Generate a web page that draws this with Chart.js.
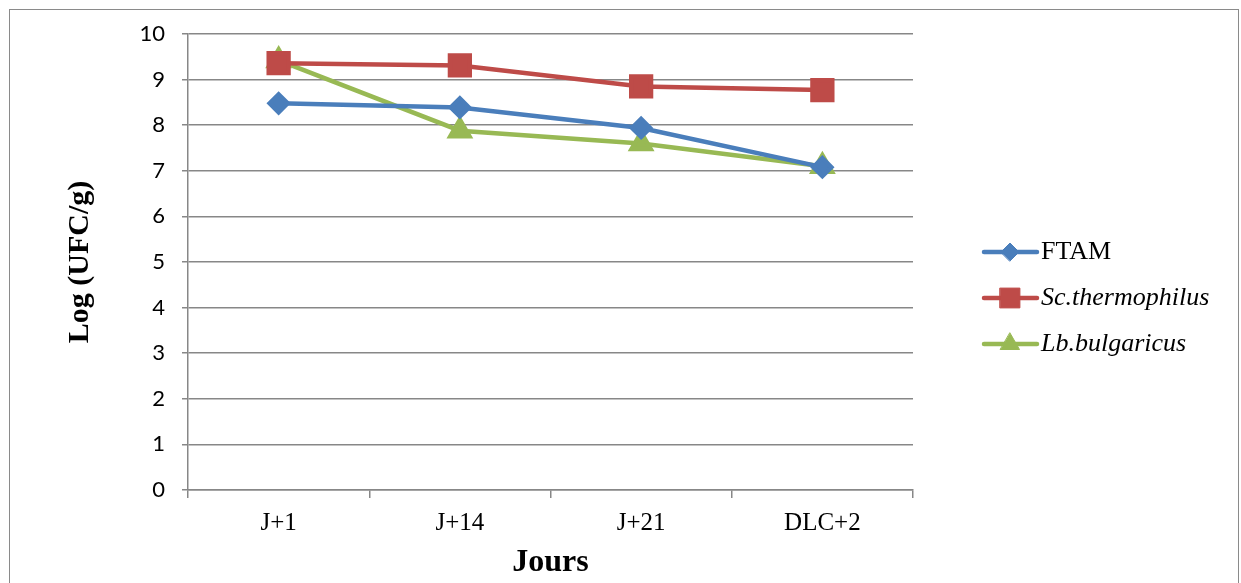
<!DOCTYPE html>
<html>
<head>
<meta charset="utf-8">
<script src="https://cdn.jsdelivr.net/npm/chart.js@4/dist/chart.umd.min.js"></script>
<style>
  html, body { margin: 0; padding: 0; background: #fff; overflow: hidden; }
  #wrap { position: relative; width: 1241px; height: 583px; }
  #frame { position: absolute; left: 9px; top: 9px; width: 1230px; height: 600px; border: 1px solid #8a8a8a; box-sizing: border-box; }
  canvas { position: absolute; left: 0; top: 0; }
</style>
</head>
<body>
<div id="wrap">
  <div id="frame"></div>
  <canvas id="myChart" width="1241" height="583"></canvas>
</div>
<script>
// values
const categories = ['J+1', 'J+14', 'J+21', 'DLC+2'];
const ftam = [8.48, 8.39, 7.94, 7.08];
const scThermophilus = [9.36, 9.31, 8.85, 8.77];
const lbBulgaricus = [9.42, 7.88, 7.60, 7.10];
const seriesNames = ['FTAM', 'Sc.thermophilus', 'Lb.bulgaricus'];
const yMin = 0, yMax = 10, yStep = 1;

const gridGray = '#878787';

// legend at the right, drawn by hand so the species names can be italic
const sideLegend = {
    id: 'sideLegend',
    afterDraw(chart) {
        const c = chart.ctx;
        const rows = [252, 298, 344];
        chart.data.datasets.forEach((ds, i) => {
            const y = rows[i];
            c.save();
            c.strokeStyle = ds.borderColor;
            c.lineWidth = 4.5;
            c.lineCap = 'round';
            c.beginPath();
            c.moveTo(984, y);
            c.lineTo(1037, y);
            c.stroke();
            c.fillStyle = ds.backgroundColor;
            c.strokeStyle = ds.borderColor;
            c.lineWidth = 1;
            Chart.helpers.drawPoint(c, { pointStyle: ds.pointStyle, radius: ds.pointRadius, rotation: 0, borderWidth: 1 }, 1010, y);
            c.fillStyle = '#000';
            c.textBaseline = 'middle';
            c.font = (i === 0 ? '' : 'italic ') + '26px "Liberation Serif"';
            c.fillText(ds.label, 1041, y);
            c.restore();
        });
    }
};

const ctx = document.getElementById('myChart').getContext('2d');

const myChart = new Chart(ctx, {
    type: 'line',
    data: {
        labels: categories,
        datasets: [{
            label: seriesNames[0],
            data: ftam,
            borderColor: '#4A7EBB',
            backgroundColor: '#4A7EBB',
            pointStyle: 'rectRot',
            pointRadius: 9,
            borderWidth: 4.5
        }, {
            label: seriesNames[1],
            data: scThermophilus,
            borderColor: '#BE4B48',
            backgroundColor: '#BE4B48',
            pointStyle: 'rect',
            pointRadius: 14,
            borderWidth: 4.5
        }, {
            label: seriesNames[2],
            data: lbBulgaricus,
            borderColor: '#98B954',
            backgroundColor: '#98B954',
            pointStyle: 'triangle',
            pointRadius: 11,
            borderWidth: 4.5
        }]
    },
    options: {
        responsive: false,
        animation: false,
        devicePixelRatio: 1,
        layout: { padding: { top: 34, right: 328, left: 0, bottom: 0 } },
        elements: { point: { borderWidth: 1 }, line: { tension: 0 } },
        plugins: {
            legend: { display: false },
            tooltip: { enabled: false }
        },
        scales: {
            x: {
                offset: true,
                grid: { offset: true, drawOnChartArea: false, drawTicks: true, tickLength: 8, color: gridGray, lineWidth: 1.5 },
                border: { color: gridGray, width: 1.5 },
                ticks: { color: '#000', padding: 10, font: { family: '"Liberation Serif"', size: 25 } },
                title: { display: true, text: 'Jours', color: '#000', padding: { top: 0, bottom: 1 },
                         font: { family: '"Liberation Serif"', size: 32, weight: 'bold' } },
                afterFit(scale) { scale.height = 93; }
            },
            y: {
                min: yMin,
                max: yMax,
                ticks: { stepSize: yStep, color: '#000', padding: 17, font: { family: 'Lato', size: 22 } },
                grid: { color: gridGray, lineWidth: 1.5, tickLength: 6 },
                border: { color: gridGray, width: 1.5 },
                title: { display: true, text: 'Log (UFC/g)', color: '#000', padding: { top: 62, bottom: 0 },
                         font: { family: '"Liberation Serif"', size: 30, weight: 'bold' } },
                afterFit(scale) { scale.width = 188; }
            }
        }
    },
    plugins: [sideLegend]
});
</script>
</body>
</html>
